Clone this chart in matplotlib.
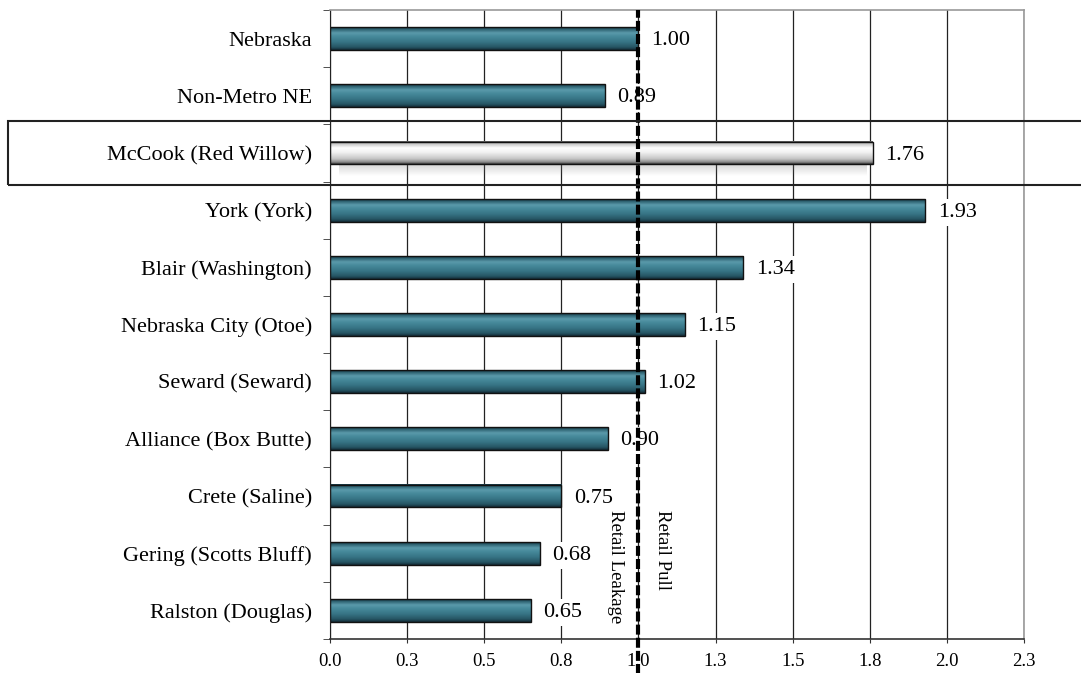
import matplotlib
matplotlib.use("Agg")
import matplotlib.pyplot as plt
import numpy as np
from matplotlib.colors import LinearSegmentedColormap
from matplotlib.patches import Rectangle
from matplotlib.transforms import blended_transform_factory

# chart data
places = ["Nebraska", "Non-Metro NE", "McCook (Red Willow)", "York (York)",
          "Blair (Washington)", "Nebraska City (Otoe)", "Seward (Seward)",
          "Alliance (Box Butte)", "Crete (Saline)", "Gering (Scotts Bluff)",
          "Ralston (Douglas)"]
pull_factor = [1.00, 0.89, 1.76, 1.93, 1.34, 1.15, 1.02, 0.90, 0.75, 0.68, 0.65]
highlight = "McCook (Red Willow)"
x_ticks = [0.0, 0.25, 0.5, 0.75, 1.0, 1.25, 1.5, 1.75, 2.0, 2.25]
x_tick_labels = ["0.0", "0.3", "0.5", "0.8", "1.0", "1.3", "1.5", "1.8", "2.0", "2.3"]

plt.rcParams['font.family'] = ['Liberation Serif', 'DejaVu Serif']

teal = LinearSegmentedColormap.from_list("teal", [
    (0.0, "#15303a"), (0.08, "#2a5d6c"), (0.25, "#5b9aab"), (0.4, "#478a9b"),
    (0.65, "#377485"), (0.88, "#265564"), (1.0, "#132c36")])
silver = LinearSegmentedColormap.from_list("silver", [
    (0.0, "#4a4a4a"), (0.08, "#bdbdbd"), (0.3, "#ffffff"), (0.5, "#f0f0f0"),
    (0.78, "#c4c4c4"), (0.92, "#8c8c8c"), (1.0, "#3c3c3c")])

fig = plt.figure(figsize=(10.81, 6.73), dpi=100)
ax = fig.add_axes([0.3053, 0.0505, 0.6420, 0.9346])

n = len(places)
ypos = np.arange(n)[::-1]
bar_h = 0.40
grad = np.linspace(0, 1, 64).reshape(-1, 1)

for name, v, y in zip(places, pull_factor, ypos):
    cmap = silver if name == highlight else teal
    ax.imshow(grad, cmap=cmap, aspect='auto', origin='upper',
              extent=(0, v, y - bar_h / 2, y + bar_h / 2), zorder=2,
              interpolation='bilinear')
    if name == highlight:
        # soft drop shadow under the highlighted bar
        shadow = np.zeros((32, 1, 4))
        shadow[:, 0, :3] = 0.5
        shadow[:, 0, 3] = np.linspace(0.35, 0.0, 32)
        ax.imshow(shadow, aspect='auto', origin='upper', zorder=1.9,
                  extent=(0.03, v - 0.02, y - bar_h / 2 - 0.2, y - bar_h / 2 + 0.02))
    ax.annotate(f"{v:.2f}", xy=(v, y), xytext=(9, -1.5), textcoords='offset points',
                va='center', ha='left', fontsize=16, zorder=3,
                bbox=dict(fc='white', ec='none', pad=3))

ax.barh(ypos, pull_factor, height=bar_h, fill=False, edgecolor='#111111',
        linewidth=1.0, zorder=2.5)

ax.set_xlim(0, 2.25)
ax.set_ylim(-0.5, n - 0.5)

ax.set_xticks(x_ticks)
ax.set_xticklabels(x_tick_labels, fontsize=13.5)
ax.tick_params(axis='x', length=3, pad=7, color='#333333')

ax.set_yticks(ypos)
ax.set_yticklabels(places, fontsize=16)
ax.tick_params(axis='y', which='major', length=0, pad=13)
ax.set_yticks(np.arange(-0.5, n, 1), minor=True)
ax.tick_params(axis='y', which='minor', length=5, color='#333333')

ax.grid(axis='x', color='#222222', linewidth=0.9)
ax.set_axisbelow(True)

for side in ['top', 'right']:
    ax.spines[side].set_color('#999999')
    ax.spines[side].set_linewidth(1.2)
ax.spines['left'].set_color('#222222')
ax.spines['bottom'].set_color('#333333')
ax.spines['bottom'].set_linewidth(1.2)

# break-even line at 1.0
xdata_yaxes = blended_transform_factory(ax.transData, ax.transAxes)
ax.plot([1.0, 1.0], [-0.055, 1.0], transform=xdata_yaxes, color='black',
        linewidth=3, dashes=(2.4, 0.75), clip_on=False, zorder=5)
ax.text(0.927, 0.205, "Retail Leakage", rotation=270, ha='center', va='top',
        fontsize=13.5, transform=xdata_yaxes, zorder=4)
ax.text(1.077, 0.205, "Retail Pull", rotation=270, ha='center', va='top',
        fontsize=13.5, transform=xdata_yaxes, zorder=4)

# box around the highlighted community row
y_hl = ypos[places.index(highlight)]
xfig_ydata = blended_transform_factory(fig.transFigure, ax.transData)
ax.add_patch(Rectangle((0.0074, y_hl - 0.56), 1.0, 1.12, transform=xfig_ydata,
                       fill=False, edgecolor='#222222', linewidth=1.5,
                       clip_on=False, zorder=6))

fig.savefig("out.png", dpi=100)
